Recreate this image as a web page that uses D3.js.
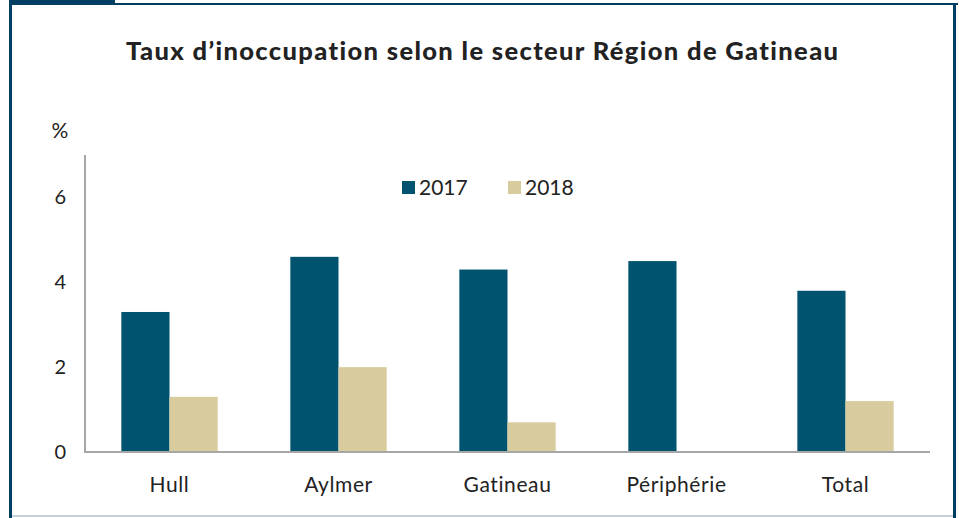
<!DOCTYPE html>
<html><head><meta charset="utf-8">
<script src="https://cdn.jsdelivr.net/npm/d3@7"></script>
<style>body{margin:0;background:#fff}svg{display:block;font-family:Lato,"Open Sans",sans-serif;font-variant-ligatures:none;font-feature-settings:"liga" 0}</style>
</head><body><svg id="c" width="959" height="518"></svg>
<script>
const categories = ["Hull","Aylmer","Gatineau","Périphérie","Total"];
const seriesNames = ["2017","2018"];
const values2017 = [3.3,4.6,4.3,4.5,3.8];
const values2018 = [1.3,2.0,0.7,0,1.2];
const yTicks = [0,2,4,6];
const title = "Taux d’inoccupation selon le secteur Région de Gatineau";

const svg = d3.select("#c");
const colors = {"2017":"#00536f","2018":"#d8cb9e"};
const m = {left:85, right:930, top:155, bottom:452};

// frame
svg.append("rect").attr("x",9).attr("y",0).attr("width",106).attr("height",5).attr("fill","#003f63");
svg.append("rect").attr("x",115).attr("y",3).attr("width",843).attr("height",2).attr("fill","#003f63");
svg.append("rect").attr("x",9).attr("y",0).attr("width",3).attr("height",518).attr("fill","#003f63");
svg.append("rect").attr("x",953).attr("y",3).attr("width",3).attr("height",515).attr("fill","#003f63");
svg.append("rect").attr("x",12).attr("y",515).attr("width",941).attr("height",2).attr("fill","#c5d2dc");

svg.append("text").attr("x",482).attr("y",60).attr("text-anchor","middle")
  .attr("font-weight",900).attr("font-size",25.5).attr("fill","#222")
  .attr("textLength",712).attr("lengthAdjust","spacing").text(title);

const x0 = d3.scaleBand().domain(categories).range([m.left,m.right]).paddingInner(0.43).paddingOuter(0.215);
const x1 = d3.scaleBand().domain(seriesNames).range([0,x0.bandwidth()]);
const y = d3.scaleLinear().domain([0,7]).range([m.bottom,m.top]);

const data = categories.map((c,i)=>({cat:c, vals:[{k:"2017",v:values2017[i]},{k:"2018",v:values2018[i]}]}));
const g = svg.append("g");
g.selectAll("g.cat").data(data).join("g").attr("transform",d=>`translate(${x0(d.cat)},0)`)
  .selectAll("rect").data(d=>d.vals.filter(e=>e.v>0)).join("rect")
  .attr("x",d=>x1(d.k)).attr("width",x1.bandwidth())
  .attr("y",d=>y(d.v)).attr("height",d=>y(0)-y(d.v)).attr("fill",d=>colors[d.k]);

// axes
svg.append("line").attr("x1",m.left).attr("x2",m.left).attr("y1",y(7)).attr("y2",y(0)).attr("stroke","#a6a6a6").attr("stroke-width",2);
svg.append("line").attr("x1",m.left-1).attr("x2",m.right).attr("y1",y(0)).attr("y2",y(0)).attr("stroke","#a6a6a6").attr("stroke-width",2);

svg.selectAll("text.yt").data(yTicks).join("text").attr("class","yt")
  .attr("x",66).attr("y",d=>y(d)).attr("dy","0.35em").attr("text-anchor","end")
  .attr("font-size",20).attr("fill","#222").text(d=>d);
svg.append("text").attr("x",60).attr("y",131).attr("dy","0.35em").attr("text-anchor","middle")
  .attr("font-size",21).attr("fill","#222").text("%");

svg.selectAll("text.xt").data(categories).join("text").attr("class","xt")
  .attr("x",d=>x0(d)+x0.bandwidth()/2).attr("y",492).attr("text-anchor","middle")
  .attr("font-size",21).attr("letter-spacing",0.6).attr("fill","#222").text(d=>d);

// legend
const legX = [402,508];
seriesNames.forEach((s,i)=>{
  svg.append("rect").attr("x",legX[i]).attr("y",181).attr("width",13).attr("height",13).attr("fill",colors[s]);
  svg.append("text").attr("x",legX[i]+17).attr("y",195).attr("font-size",21).attr("fill","#222").text(s);
});
</script></body></html>
